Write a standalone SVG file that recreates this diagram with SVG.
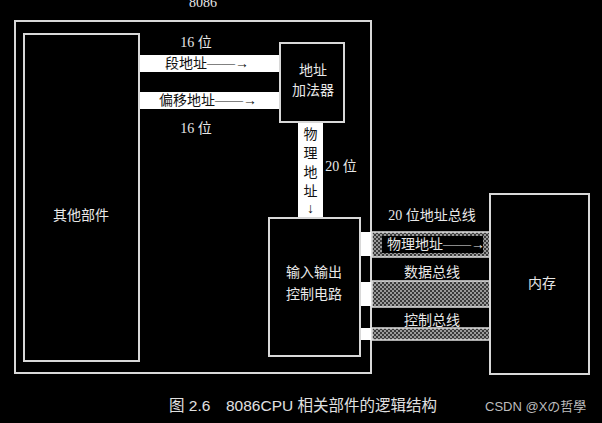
<svg xmlns="http://www.w3.org/2000/svg" width="602" height="423" viewBox="0 0 602 423">
<defs>
<pattern id="chk" width="4" height="4" patternUnits="userSpaceOnUse">
<rect width="4" height="4" fill="#9a9a9a"/>
<rect width="2" height="2" fill="#3a3a3a"/>
<rect x="2" y="2" width="2" height="2" fill="#3a3a3a"/>
</pattern>
<style>
.box{fill:#000;stroke:#d8d8d8;stroke-width:2}
.band{fill:#fff}
.bus{fill:url(#chk);stroke:#e0e0e0;stroke-width:1.5}
.t{font-family:"Liberation Serif","Noto Sans CJK SC",serif;font-size:14px;fill:#e8e8e8;text-anchor:middle}
.tb{font-family:"Liberation Serif","Noto Sans CJK SC",serif;font-size:14px;fill:#111;text-anchor:middle}
.cap{font-family:"Liberation Sans","Noto Sans CJK SC",sans-serif;font-size:15.5px;fill:#e0e0e0}
.wm{font-family:"Liberation Sans","Noto Sans CJK SC",sans-serif;font-size:13px;fill:#bdbdbd}
</style>
</defs>
<rect width="602" height="423" fill="#000"/>
<g id="cpu">
<rect class="box" x="15" y="21" width="356" height="352"/>
<text class="t" x="203" y="7" font-size="13">8086</text>
</g>
<g id="connectors">
<rect class="band" x="139" y="55" width="141" height="17"/>
<text class="tb" x="207" y="68">段地址——→</text>
<rect class="band" x="139" y="92" width="141" height="17"/>
<text class="tb" x="208" y="105">偏移地址——→</text>
<text class="t" x="196" y="47">16 位</text>
<text class="t" x="196" y="133">16 位</text>
<rect class="band" x="298" y="122" width="25" height="96"/>
<text class="tb" x="310.5" y="139">物</text>
<text class="tb" x="310.5" y="158">理</text>
<text class="tb" x="310.5" y="177">地</text>
<text class="tb" x="310.5" y="196">址</text>
<text class="tb" x="310.5" y="213">↓</text>
<text class="t" x="341" y="171">20 位</text>
<rect class="band" x="360" y="232" width="11" height="24"/>
<rect class="bus" x="372" y="232" width="118" height="25"/>
<rect x="382" y="236" width="101" height="17" fill="#000"/>
<text class="t" x="436" y="249">物理地址——→</text>
<text class="t" x="432" y="220">20 位地址总线</text>
<rect class="band" x="360" y="282" width="11" height="24"/>
<rect class="bus" x="372" y="281" width="118" height="26"/>
<text class="t" x="432" y="277">数据总线</text>
<rect class="band" x="360" y="328" width="11" height="12"/>
<rect class="bus" x="372" y="328" width="118" height="12"/>
<text class="t" x="432" y="325">控制总线</text>
</g>
<g id="other">
<rect class="box" x="24" y="34" width="115" height="327"/>
<text class="t" x="81" y="220">其他部件</text>
</g>
<g id="adder">
<rect class="box" x="280" y="43" width="64" height="79"/>
<text class="t" x="313" y="75">地址</text>
<text class="t" x="313" y="95">加法器</text>
</g>
<g id="io">
<rect class="box" x="269" y="218" width="91" height="138"/>
<text class="t" x="314" y="277">输入输出</text>
<text class="t" x="314" y="299">控制电路</text>
</g>
<g id="memory">
<rect class="box" x="490" y="194" width="99" height="180"/>
<text class="t" x="542" y="288">内存</text>
</g>
<text class="cap" x="169" y="411">图 2.6</text>
<text class="cap" x="226" y="411">8086CPU 相关部件的逻辑结构</text>
<text class="wm" x="485" y="411">CSDN @Xの哲學</text>
</svg>
